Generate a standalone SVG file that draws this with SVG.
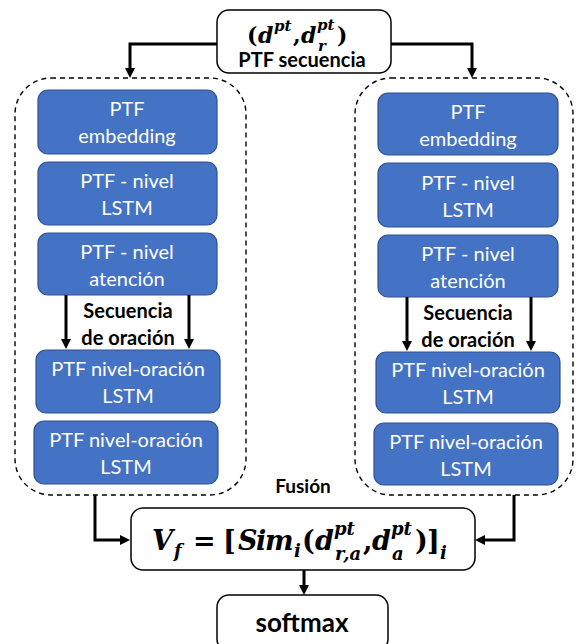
<svg xmlns="http://www.w3.org/2000/svg" width="576" height="644" viewBox="0 0 576 644">
  <style>
    .blk { fill: #4472C4; stroke: #2F528F; stroke-width: 1.2; }
    .blk-t { font-family: Lato, "Open Sans", sans-serif; font-size: 20px; fill: #ffffff; text-anchor: middle; }
    .wbox { fill: #ffffff; stroke: #000000; stroke-width: 1.5; }
    .group { fill: none; stroke: #000000; stroke-width: 1.4; stroke-dasharray: 5 4; }
    .lbl { font-family: Lato, "Open Sans", sans-serif; font-weight: bold; fill: #000000; text-anchor: middle; }
    .math { font-family: "DejaVu Serif", "Liberation Serif", serif; font-weight: bold; font-style: italic; fill: #000000; }
    .up { font-style: normal; }
    .wire { fill: none; stroke: #000000; stroke-width: 3; }
  </style>
  <defs>
    <marker id="arrow" markerUnits="userSpaceOnUse" markerWidth="10" markerHeight="10" refX="2" refY="5" orient="auto">
      <path d="M0,0 L10,5 L0,10 z" fill="#000000"/>
    </marker>
  </defs>

  <!-- dashed encoder groups -->
  <rect class="group" x="15" y="78" width="231" height="417" rx="36"/>
  <rect class="group" x="355" y="78" width="218" height="417" rx="36"/>

  <!-- input sequence -->
  <g id="input">
    <rect class="wbox" x="217" y="10" width="174" height="63" rx="12"/>
    <text class="math" font-size="22">
      <tspan class="up" x="247" y="43">(</tspan>
      <tspan x="258" y="43">d</tspan>
      <tspan x="274" y="31" font-size="15">pt</tspan>
      <tspan class="up" x="293" y="43">,</tspan>
      <tspan x="301" y="43">d</tspan>
      <tspan x="317" y="30" font-size="15">pt</tspan>
      <tspan x="318" y="51" font-size="15">r</tspan>
      <tspan class="up" x="337" y="43">)</tspan>
    </text>
    <text class="lbl" x="302" y="67" font-size="20">PTF secuencia</text>
  </g>

  <!-- left branch -->
  <g id="left-embedding">
    <rect class="blk" x="38" y="90" width="179" height="64" rx="10"/>
    <text class="blk-t" x="127" y="116">PTF</text>
    <text class="blk-t" x="127" y="143">embedding</text>
  </g>
  <g id="left-word-lstm">
    <rect class="blk" x="38" y="162" width="179" height="63" rx="10"/>
    <text class="blk-t" x="127" y="188">PTF - nivel</text>
    <text class="blk-t" x="127" y="215">LSTM</text>
  </g>
  <g id="left-word-attention">
    <rect class="blk" x="38" y="233" width="179" height="62" rx="10"/>
    <text class="blk-t" x="127" y="259">PTF - nivel</text>
    <text class="blk-t" x="127" y="286">atención</text>
  </g>
  <g id="left-sentence-label">
    <text class="lbl" x="128" y="318" font-size="20">Secuencia</text>
    <text class="lbl" x="128" y="345" font-size="20">de oración</text>
  </g>
  <g id="left-sentence-lstm-1">
    <rect class="blk" x="36" y="350" width="184" height="63" rx="10"/>
    <text class="blk-t" x="128" y="376">PTF nivel-oración</text>
    <text class="blk-t" x="128" y="403">LSTM</text>
  </g>
  <g id="left-sentence-lstm-2">
    <rect class="blk" x="34" y="421" width="184" height="63" rx="10"/>
    <text class="blk-t" x="126" y="447">PTF nivel-oración</text>
    <text class="blk-t" x="126" y="474">LSTM</text>
  </g>

  <!-- right branch -->
  <g id="right-embedding">
    <rect class="blk" x="378" y="93" width="180" height="62" rx="10"/>
    <text class="blk-t" x="468" y="119">PTF</text>
    <text class="blk-t" x="468" y="146">embedding</text>
  </g>
  <g id="right-word-lstm">
    <rect class="blk" x="378" y="163" width="180" height="64" rx="10"/>
    <text class="blk-t" x="468" y="190">PTF - nivel</text>
    <text class="blk-t" x="468" y="217">LSTM</text>
  </g>
  <g id="right-word-attention">
    <rect class="blk" x="378" y="235" width="180" height="62" rx="10"/>
    <text class="blk-t" x="468" y="261">PTF - nivel</text>
    <text class="blk-t" x="468" y="288">atención</text>
  </g>
  <g id="right-sentence-label">
    <text class="lbl" x="468" y="320" font-size="20">Secuencia</text>
    <text class="lbl" x="468" y="347" font-size="20">de oración</text>
  </g>
  <g id="right-sentence-lstm-1">
    <rect class="blk" x="376" y="352" width="184" height="61" rx="10"/>
    <text class="blk-t" x="468" y="377">PTF nivel-oración</text>
    <text class="blk-t" x="468" y="404">LSTM</text>
  </g>
  <g id="right-sentence-lstm-2">
    <rect class="blk" x="374" y="423" width="184" height="62" rx="10"/>
    <text class="blk-t" x="466" y="449">PTF nivel-oración</text>
    <text class="blk-t" x="466" y="476">LSTM</text>
  </g>

  <!-- fusion -->
  <text class="lbl" x="303" y="493" font-size="19">Fusión</text>
  <g id="fusion">
    <rect class="wbox" x="131" y="508" width="344" height="62" rx="12"/>
    <text class="math" font-size="27">
      <tspan x="152" y="550">V</tspan>
      <tspan x="174" y="557" font-size="18">f</tspan>
      <tspan class="up" x="193" y="550">=</tspan>
      <tspan class="up" x="223" y="550">[</tspan>
      <tspan x="238" y="550">S</tspan>
      <tspan x="256" y="550">i</tspan>
      <tspan x="265" y="550">m</tspan>
      <tspan x="294" y="557" font-size="18">i</tspan>
      <tspan class="up" x="302" y="550">(</tspan>
      <tspan x="315" y="550">d</tspan>
      <tspan x="334" y="535" font-size="18">pt</tspan>
      <tspan x="335" y="560" font-size="18">r,a</tspan>
      <tspan class="up" x="363" y="550">,</tspan>
      <tspan x="372" y="550">d</tspan>
      <tspan x="391" y="535" font-size="18">pt</tspan>
      <tspan x="392" y="560" font-size="18">a</tspan>
      <tspan class="up" x="415" y="550">)</tspan>
      <tspan class="up" x="427" y="550">]</tspan>
      <tspan x="440" y="559" font-size="18">i</tspan>
    </text>
  </g>

  <g id="softmax">
    <rect class="wbox" x="217" y="595" width="171" height="56" rx="12"/>
    <text class="lbl" x="302" y="632" font-size="26">softmax</text>
  </g>

  <!-- connectors -->
  <g id="connectors">
    <path class="wire" d="M217,44 H130 V70" marker-end="url(#arrow)"/>
    <path class="wire" d="M391,44 H472 V70" marker-end="url(#arrow)"/>
    <path class="wire" d="M66,295 V341" marker-end="url(#arrow)"/>
    <path class="wire" d="M189,295 V341" marker-end="url(#arrow)"/>
    <path class="wire" d="M407,297 V343" marker-end="url(#arrow)"/>
    <path class="wire" d="M531,297 V343" marker-end="url(#arrow)"/>
    <path class="wire" d="M95,495 V540 H122" marker-end="url(#arrow)"/>
    <path class="wire" d="M514,495 V540 H483" marker-end="url(#arrow)"/>
    <path class="wire" d="M304,570 V587" marker-end="url(#arrow)"/>
  </g>
</svg>
